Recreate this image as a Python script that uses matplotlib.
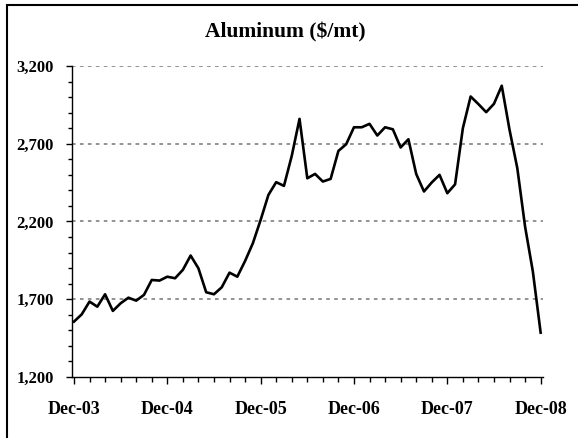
import numpy as np
import matplotlib
matplotlib.use("Agg")
import matplotlib.pyplot as plt
from matplotlib.patches import Rectangle
from matplotlib.ticker import MultipleLocator, FixedLocator, FixedFormatter, FuncFormatter

# monthly aluminum price, Dec-03 .. Dec-08 ($/mt)
prices = [
    1556, 1603, 1685, 1652, 1732, 1625, 1674, 1710, 1691, 1728, 1824, 1820,
    1845, 1835, 1889, 1981, 1899, 1745, 1732, 1777, 1871, 1845, 1946, 2060,
    2210, 2371, 2453, 2429, 2622, 2860, 2478, 2506, 2457, 2474, 2654, 2697,
    2806, 2806, 2828, 2753, 2806, 2793, 2676, 2729, 2506, 2393, 2451, 2500,
    2382, 2439, 2800, 3004, 2955, 2903, 2957, 3073, 2790, 2543, 2167, 1878,
    1485,
]
year_labels = ["Dec-03", "Dec-04", "Dec-05", "Dec-06", "Dec-07", "Dec-08"]
y_ticks = [1200, 1700, 2200, 2700, 3200]

months = np.arange(len(prices))

plt.rcParams["font.family"] = ["Liberation Serif", "DejaVu Serif"]

fig = plt.figure(figsize=(5.78, 4.38), dpi=100)
ax = fig.add_axes([0.1246, 0.1393, 0.8148, 0.71])

# horizontal dotted gridlines (not on the axis itself)
for v in y_ticks[1:]:
    ax.axhline(v, color="#8a8a8a", lw=1.3, ls=(0, (2.0, 2.4)), zorder=1)

ax.plot(months, prices, color="black", lw=1.9, zorder=3)

ax.set_xlim(-0.25, 60.3)
ax.set_ylim(1200, 3200)

ax.xaxis.set_major_locator(FixedLocator([0, 12, 24, 36, 48, 60]))
ax.xaxis.set_major_formatter(FixedFormatter(year_labels))
ax.xaxis.set_minor_locator(MultipleLocator(2))
ax.yaxis.set_major_locator(FixedLocator(y_ticks))
ax.yaxis.set_major_formatter(FuncFormatter(lambda v, p: f"{int(v):,}"))
ax.yaxis.set_minor_locator(MultipleLocator(100))

ax.tick_params(axis="x", which="major", direction="out", length=5, width=1,
               pad=12, labelsize=13)
ax.tick_params(axis="x", which="minor", direction="out", length=3.5, width=1)
ax.tick_params(axis="y", which="major", direction="out", length=4, width=1,
               pad=9, labelsize=12)
ax.tick_params(axis="y", which="minor", direction="out", length=3, width=1)
for lab in ax.get_xticklabels() + ax.get_yticklabels():
    lab.set_fontweight("bold")

for side in ["top", "right"]:
    ax.spines[side].set_visible(False)
for side in ["left", "bottom"]:
    ax.spines[side].set_linewidth(1)
    ax.spines[side].set_color("black")

fig.text(0.493, 0.925, "Aluminum ($/mt)", ha="center", va="center",
         fontsize=15.5, fontweight="bold")

# chart frame (only left and top edges show in the crop)
fig.add_artist(Rectangle((7 / 578, -0.1), 1.2, 1 - 5 / 438 + 0.1,
                         transform=fig.transFigure, fill=False,
                         edgecolor="black", lw=1.5))

fig.savefig("out.png", dpi=100)
